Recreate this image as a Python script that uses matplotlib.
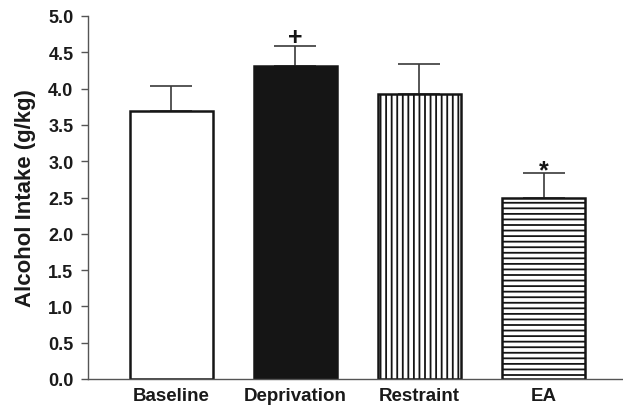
import matplotlib
matplotlib.use("Agg")
import matplotlib.pyplot as plt

categories = ["Baseline", "Deprivation", "Restraint", "EA"]
means = [3.69, 4.31, 3.92, 2.50]
errors = [0.35, 0.28, 0.42, 0.34]
marks = ["", "+", "", "*"]
yticks = [0.0, 0.5, 1.0, 1.5, 2.0, 2.5, 3.0, 3.5, 4.0, 4.5, 5.0]

plt.rcParams['font.family'] = ['Liberation Sans', 'DejaVu Sans']
plt.rcParams['font.weight'] = 'bold'
plt.rcParams['hatch.linewidth'] = 1.3

fig = plt.figure(figsize=(6.23, 4.10), dpi=100)
ax = fig.add_axes([88/623, 30/410, 1 - 88/623, 363/410])

faces = ["white", "#151515", "white", "white"]
hatches = [None, None, "|||", "---"]
mark_offsets = {"+": 0.02, "*": -0.06}
x = list(range(len(categories)))
for i in x:
    ax.bar(i, means[i], width=0.67, color=faces[i], edgecolor="#151515",
           linewidth=1.8, hatch=hatches[i], zorder=2)
    ax.errorbar(i, means[i], yerr=[[0], [errors[i]]], fmt="none",
                ecolor="#3a3a3a", elinewidth=1.2, capsize=15, capthick=1.2, zorder=1)
    if marks[i]:
        ax.text(i, means[i] + errors[i] + mark_offsets[marks[i]], marks[i],
                ha="center", va="baseline", fontsize=18, fontweight="bold", color="#151515")

ax.set_xlim(-0.67, 3.64)
ax.set_ylim(0, 5.0)
ax.set_yticks(yticks)
ax.set_yticklabels([f"{v:.1f}" for v in yticks], fontsize=13, fontweight="bold", color="#1a1a1a")
ax.set_xticks(x)
ax.set_xticklabels(categories, fontsize=13.5, fontweight="bold", color="#1a1a1a")
ax.tick_params(axis="x", length=0, pad=6)
ax.tick_params(axis="y", direction="out", length=5, width=1.0, color="#555555", pad=5.5)
ax.set_ylabel("Alcohol Intake (g/kg)", fontsize=16, fontweight="bold", labelpad=9, color="#1a1a1a")
for s in ["top", "right"]:
    ax.spines[s].set_visible(False)
for s in ["left", "bottom"]:
    ax.spines[s].set_color("#555555")
    ax.spines[s].set_linewidth(1.0)

fig.savefig("out.png", dpi=100)
